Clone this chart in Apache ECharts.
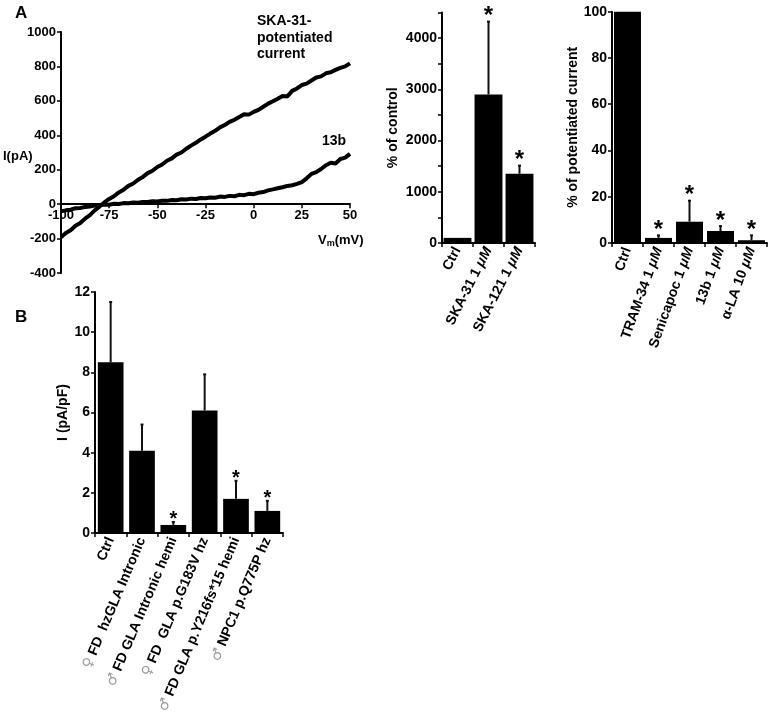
<!DOCTYPE html>
<html><head><meta charset="utf-8">
<script src="https://cdn.jsdelivr.net/npm/echarts@6/dist/echarts.min.js"></script>
<style>html,body{margin:0;padding:0;background:#fff}#c{width:773px;height:720px}</style>
</head><body><div id="c"></div>
<script>
// ---- Panel A (left): I-V traces ----
const ivVoltage = [-100,-97.5,-95,-92.5,-90,-87.5,-85,-82.5,-80,-77.5,-75,-72.5,-70,-67.5,-65,-62.5,-60,-57.5,-55,-52.5,-50,-47.5,-45,-42.5,-40,-37.5,-35,-32.5,-30,-27.5,-25,-22.5,-20,-17.5,-15,-12.5,-10,-7.5,-5,-2.5,0,2.5,5,7.5,10,12.5,15,17.5,20,22.5,25,27.5,30,32.5,35,37.5,40,42.5,45,47.5,50];
const ivSka31 = [-192,-168,-152,-126,-110,-84,-64,-36,-14,10,30,46,68,84,106,120,142,158,180,194,216,230,252,266,288,300,322,340,356,376,392,410,426,446,460,478,490,506,522,520,536,548,566,584,598,612,628,626,658,672,692,700,718,736,742,760,766,780,792,800,818];
const iv13b = [-42,-36,-32,-24,-22,-16,-14,-8,-7,-2,-3,2,1,6,5,10,8,13,12,17,15,20,19,24,23,28,27,32,30,36,34,39,37,44,42,48,46,54,52,60,58,66,70,80,86,92,98,106,110,118,128,150,176,186,204,226,240,236,262,270,292];
const ivXTicks = [-100,-75,-50,-25,0,25,50];
const ivYTicks = [-400,-200,0,200,400,600,800,1000];

// ---- Panel A (middle): % of control ----
const ctrlCats = ['Ctrl','SKA-31 1 μM','SKA-121 1 μM'];
const ctrlVals = [100, 2900, 1350];
const ctrlErrTop = [100, 4320, 1510];
const ctrlSig = [0, 1, 1];

// ---- Panel A (right): % of potentiated current ----
const potCats = ['Ctrl','TRAM-34 1 μM','Senicapoc 1 μM','13b 1 μM','α-LA 10 μM'];
const potVals = [100, 2.2, 9.2, 5.2, 1.2];
const potErrTop = [100, 3.3, 18.3, 7.3, 3.3];
const potSig = [0, 1, 1, 1, 1];

// ---- Panel B ----
const bCats = ['Ctrl','♀ FD  hzGLA Intronic','♂ FD GLA Intronic hemi','♀ FD  GLA p.G183V hz','♂ FD GLA p.Y216fs*15 hemi','♂ NPC1 p.Q775P hz'];
const bVals = [8.5, 4.1, 0.4, 6.1, 1.7, 1.1];
const bErrTop = [11.5, 5.4, 0.55, 7.9, 2.6, 1.6];
const bSig = [0, 0, 1, 0, 1, 1];

const FF = '"Liberation Sans", Arial, sans-serif';
const chart = echarts.init(document.getElementById('c'), null, {renderer: 'canvas'});
const plain = v => String(v);

function lbl(extra) {
  return Object.assign({color: '#000', fontFamily: FF, fontWeight: 'bold', fontSize: 14, margin: 5, formatter: plain}, extra || {});
}
function axisCommon(extra) {
  return Object.assign({
    axisLine: {show: true, onZero: false, lineStyle: {color: '#000', width: 2}},
    axisTick: {show: true, length: 4, lineStyle: {color: '#000', width: 1.5}},
    splitLine: {show: false},
    axisLabel: lbl()
  }, extra);
}

function errorSeries(gi, vals, tops, sig, starFont, starLift) {
  return {
    type: 'custom', xAxisIndex: gi, yAxisIndex: gi, clip: false, z: 5, silent: true,
    data: vals.map((v, i) => [i, v, tops[i], sig[i]]),
    renderItem: function (params, api) {
      const i = api.value(0);
      const b = api.coord([i, api.value(1)]);
      const t = api.coord([i, api.value(2)]);
      const children = [];
      if (t[1] < b[1] - 0.5) {
        children.push({type: 'line', shape: {x1: b[0], y1: b[1], x2: t[0], y2: t[1]}, style: {stroke: '#111', lineWidth: 2}});
        children.push({type: 'line', shape: {x1: t[0] - 1.5, y1: t[1], x2: t[0] + 1.5, y2: t[1]}, style: {stroke: '#111', lineWidth: 2}});
      }
      if (api.value(3)) {
        children.push({type: 'text', style: {text: '*', x: t[0], y: t[1] - starLift, align: 'center', verticalAlign: 'middle', font: starFont, fill: '#000'}});
      }
      return {type: 'group', children: children};
    }
  };
}

const muFmt = v => v.replace('μM', '{i|μM}');
const muRich = {i: {fontStyle: 'italic', fontWeight: 'bold', fontSize: 14, fontFamily: FF, color: '#000'}};

// IV grid geometry: zero line sits above the grid bottom by this many px
const ivTop = 32, ivH = 241;
const ivZeroOffset = -ivH * (0 - ivYTicks[0]) / (ivYTicks[ivYTicks.length - 1] - ivYTicks[0]);

const option = {
  animation: false,
  backgroundColor: '#fff',
  grid: [
    {left: 61, top: ivTop, width: 289, height: ivH},
    {left: 442, top: 12.4, width: 93, height: 230.6},
    {left: 612, top: 11.7, width: 155, height: 231.3},
    {left: 95, top: 292, width: 188, height: 241}
  ],
  xAxis: [
    axisCommon({gridIndex: 0, type: 'value', min: ivXTicks[0], max: ivXTicks[ivXTicks.length - 1], interval: 25,
      position: 'bottom', offset: ivZeroOffset,
      axisLabel: lbl({fontSize: 13})}),
    axisCommon({gridIndex: 1, type: 'category', data: ctrlCats,
      axisLabel: lbl({rotate: 63, interval: 0, formatter: muFmt, rich: muRich})}),
    axisCommon({gridIndex: 2, type: 'category', data: potCats,
      axisLabel: lbl({rotate: 70, interval: 0, formatter: muFmt, rich: muRich})}),
    axisCommon({gridIndex: 3, type: 'category', data: bCats,
      axisLabel: lbl({rotate: 67, interval: 0,
        formatter: v => (v[0] === '♀' || v[0] === '♂') ? '{g|' + v[0] + '} ' + v.slice(2) : v,
        rich: {g: {color: '#9a9a9a', fontSize: 14, fontWeight: 'normal', fontFamily: '"DejaVu Sans", sans-serif'}}})})
  ],
  yAxis: [
    axisCommon({gridIndex: 0, type: 'value', min: ivYTicks[0], max: ivYTicks[ivYTicks.length - 1], interval: 200,
      axisLabel: lbl({fontSize: 13})}),
    axisCommon({gridIndex: 1, type: 'value', min: 0, max: 4500, interval: 1000,
      minorTick: {show: true, splitNumber: 2, length: 4, lineStyle: {color: '#000', width: 1.5}},
      axisLabel: lbl({showMaxLabel: false}),
      name: '% of control', nameLocation: 'middle', nameGap: 42,
      nameTextStyle: {color: '#000', fontFamily: FF, fontWeight: 'bold', fontSize: 14}}),
    axisCommon({gridIndex: 2, type: 'value', min: 0, max: 100, interval: 20,
      name: '% of potentiated current', nameLocation: 'middle', nameGap: 31,
      nameTextStyle: {color: '#000', fontFamily: FF, fontWeight: 'bold', fontSize: 14}}),
    axisCommon({gridIndex: 3, type: 'value', min: 0, max: 12, interval: 2,
      name: 'I (pA/pF)', nameLocation: 'middle', nameGap: 16,
      nameTextStyle: {color: '#000', fontFamily: FF, fontWeight: 'bold', fontSize: 14}})
  ],
  series: [
    {type: 'line', xAxisIndex: 0, yAxisIndex: 0, data: ivVoltage.map((v, i) => [v, ivSka31[i]]),
      showSymbol: false, lineStyle: {color: '#000', width: 4}, clip: false, z: 3},
    {type: 'line', xAxisIndex: 0, yAxisIndex: 0, data: ivVoltage.map((v, i) => [v, iv13b[i]]),
      showSymbol: false, lineStyle: {color: '#000', width: 4}, clip: false, z: 3},
    {type: 'bar', xAxisIndex: 1, yAxisIndex: 1, data: ctrlVals, barCategoryGap: '10%', itemStyle: {color: '#000'}},
    errorSeries(1, ctrlVals, ctrlErrTop, ctrlSig, 'bold 24px ' + FF, 5),
    {type: 'bar', xAxisIndex: 2, yAxisIndex: 2, data: potVals, barCategoryGap: '13%', itemStyle: {color: '#000'}},
    errorSeries(2, potVals, potErrTop, potSig, 'bold 24px ' + FF, 5),
    {type: 'bar', xAxisIndex: 3, yAxisIndex: 3, data: bVals, barCategoryGap: '18%', itemStyle: {color: '#000'}},
    errorSeries(3, bVals, bErrTop, bSig, 'bold 20px ' + FF, 2)
  ],
  graphic: [
    {type: 'text', left: 15, top: 5, style: {text: 'A', font: 'bold 17px ' + FF, fill: '#000'}},
    {type: 'text', left: 15, top: 309, style: {text: 'B', font: 'bold 17px ' + FF, fill: '#000'}},
    {type: 'text', left: 257, top: 13, style: {text: 'SKA-31-\npotentiated\ncurrent', font: 'bold 14px ' + FF, lineHeight: 16.5, fill: '#000'}},
    {type: 'text', left: 322, top: 134, style: {text: '13b', font: 'bold 14px ' + FF, fill: '#000'}},
    {type: 'text', left: 3, top: 150, style: {text: 'I(pA)', font: 'bold 13px ' + FF, fill: '#000'}},
    {type: 'text', left: 318, top: 234, style: {text: 'V{s|m}(mV)', font: 'bold 13px ' + FF, fill: '#000',
      rich: {s: {fontSize: 9, fontWeight: 'bold', fontFamily: FF, verticalAlign: 'bottom', padding: [6, 0, 0, 0]}}}}
  ]
};
chart.setOption(option);
</script>
</body></html>
